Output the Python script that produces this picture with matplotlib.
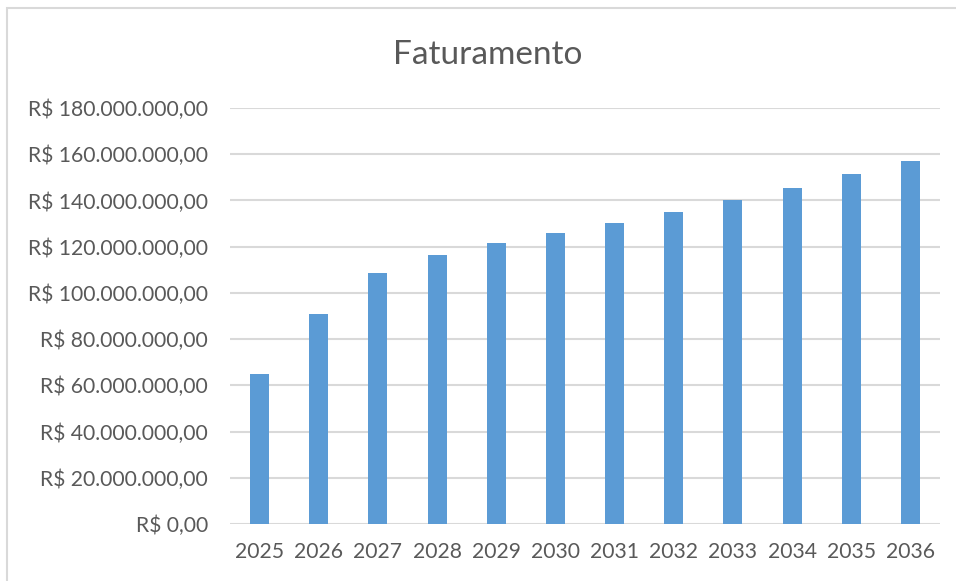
import matplotlib
matplotlib.use("Agg")
import matplotlib.pyplot as plt
from matplotlib.patches import Rectangle
from matplotlib.ticker import FuncFormatter

years = ["2025", "2026", "2027", "2028", "2029", "2030",
         "2031", "2032", "2033", "2034", "2035", "2036"]
revenue = [64.9e6, 91.0e6, 108.7e6, 116.5e6, 121.4e6, 125.8e6,
           130.3e6, 134.8e6, 140.3e6, 145.3e6, 151.5e6, 156.9e6]
yticks = [0, 20e6, 40e6, 60e6, 80e6, 100e6, 120e6, 140e6, 160e6, 180e6]
title = "Faturamento"

plt.rcParams['font.family'] = ['Lato', 'DejaVu Sans']
text_color = "#595959"
grid_color = "#D9D9D9"
bar_color = "#5B9BD5"

fig = plt.figure(figsize=(9.56, 5.81), dpi=100)
ax = fig.add_axes([230/956, 1-524/581, 710/956, (524-108)/581])

x = list(range(len(years)))
ax.bar(x, revenue, width=0.32, color=bar_color, zorder=3)

ax.set_xlim(-0.5, len(years) - 0.5)
ax.set_ylim(0, 180e6)
ax.set_yticks(yticks)

def brl(v, pos):
    s = f"{v:,.2f}"
    s = s.replace(",", "X").replace(".", ",").replace("X", ".")
    return "R$ " + s

ax.yaxis.set_major_formatter(FuncFormatter(brl))
ax.set_xticks(x)
ax.set_xticklabels(years)
ax.grid(axis='y', color=grid_color, linewidth=1.5, zorder=0)
for sp in ax.spines.values():
    sp.set_visible(False)
ax.tick_params(axis='both', length=0, colors=text_color, labelsize=15.2)
ax.tick_params(axis='y', pad=16)
ax.tick_params(axis='x', pad=13)

fig.text(488/956, 1-55/581, title, ha='center', va='center',
         fontsize=24, color=text_color)

fig.patches.append(Rectangle((7/956, -0.1), 1.2, 1 - 8/581 + 0.1,
                             transform=fig.transFigure, fill=False,
                             edgecolor=grid_color, linewidth=1.5))

fig.savefig("out.png", dpi=100)
